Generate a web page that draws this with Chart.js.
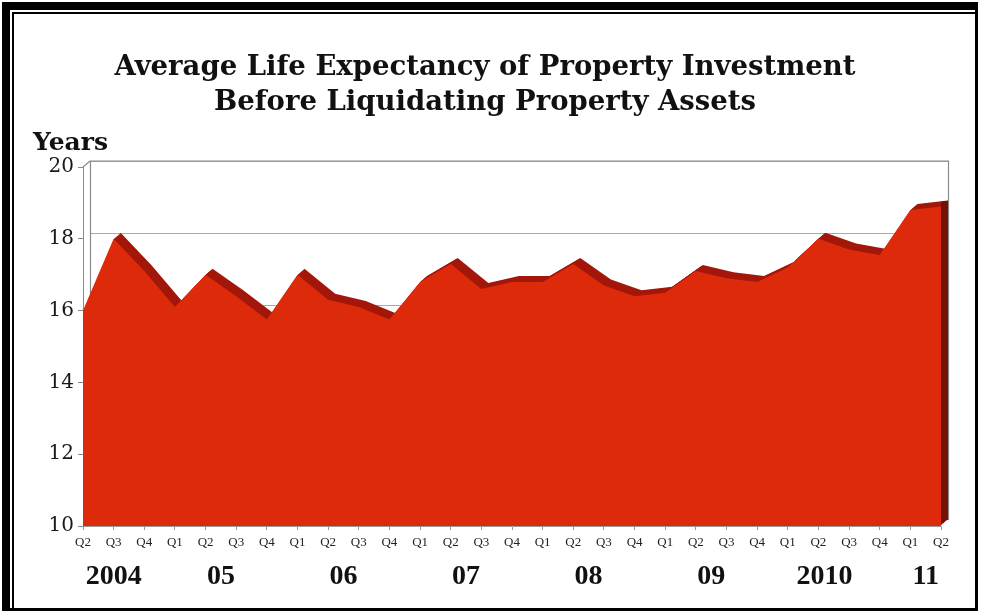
<!DOCTYPE html>
<html>
<head>
<meta charset="utf-8">
<script src="https://cdn.jsdelivr.net/npm/chart.js@4.4.1/dist/chart.umd.min.js"></script>
<style>
  html, body { margin: 0; padding: 0; background: #fff; }
  #wrap { position: relative; width: 981px; height: 614px; overflow: hidden; background: #fff; }
  #c { position: absolute; left: 0; top: 0; }
  #frameOuter { position: absolute; left: 2px; top: 2px; width: 965px; height: 598px;
    border-top: 8px solid #000; border-left: 8px solid #000; border-right: 3px solid #000; border-bottom: 3px solid #000; }
  #frameInner { position: absolute; left: 12px; top: 12px; width: 962px; height: 596px;
    border-top: 2px solid #000; border-left: 2px solid #000; }
  .title { position: absolute; left: 0; width: 970px; text-align: center;
    font-family: "DejaVu Serif", serif; font-weight: bold; font-size: 27.5px; color: #111; white-space: nowrap; }
  #yl { position: absolute; left: 33px; top: 127px; font-family: "DejaVu Serif", serif; font-weight: bold; font-size: 25px; color: #111; }
</style>
</head>
<body>
<div id="wrap">
  <canvas id="c" width="981" height="614"></canvas>
  <div id="frameOuter"></div>
  <div id="frameInner"></div>
  <div class="title" style="top:49px">Average Life Expectancy of Property Investment</div>
  <div class="title" style="top:84px">Before Liquidating Property Assets</div>
  <div id="yl">Years</div>
</div>
<script>
// ---- data ----
const quarterLabels = ['Q2','Q3','Q4',
  'Q1','Q2','Q3','Q4',
  'Q1','Q2','Q3','Q4',
  'Q1','Q2','Q3','Q4',
  'Q1','Q2','Q3','Q4',
  'Q1','Q2','Q3','Q4',
  'Q1','Q2','Q3','Q4',
  'Q1','Q2'];
const lifeExpectancyYears = [16.0, 18.0, 17.1,
  16.1, 17.0, 16.4, 15.75,
  17.0, 16.3, 16.1, 15.75,
  16.8, 17.3, 16.6, 16.8,
  16.8, 17.3, 16.7, 16.4,
  16.5, 17.1, 16.9, 16.8,
  17.2, 18.0, 17.7, 17.55,
  18.8, 18.9];
const yearLabels = ['2004','05','06','07','08','09','2010','11'];
const yearTickPos = [1, 4.5, 8.5, 12.5, 16.5, 20.5, 24.2, 27.5];
const yTicks = [10, 12, 14, 16, 18, 20];

// ---- style ----
const FRONT = '#DC2A0A';
const TOP_SHADE = '#A3170A';
const SIDE_SHADE = '#741005';
const DX = 7, DY = -6;
const STEPS = 8;

const datasets = [];
datasets.push({
  data: lifeExpectancyYears, fill: 'origin', backgroundColor: FRONT,
  borderWidth: 0, pointRadius: 0, tension: 0, order: 0, clip: false
});
for (let k = 1; k <= STEPS; k++) {
  const f = k / STEPS;
  datasets.push({
    data: lifeExpectancyYears, fill: 'origin',
    backgroundColor: (ctx) => {
      const ch = ctx.chart, ca = ch.chartArea;
      if (!ca) return TOP_SHADE;
      const shift = DX * f;
      const g = ch.ctx.createLinearGradient(ca.left, 0, ca.right, 0);
      const w = ca.right - ca.left;
      const p = Math.max(0, Math.min(1, (w - shift) / w));
      g.addColorStop(0, TOP_SHADE);
      g.addColorStop(p, TOP_SHADE);
      g.addColorStop(Math.min(1, p + 0.0001), SIDE_SHADE);
      g.addColorStop(1, SIDE_SHADE);
      return g;
    },
    borderWidth: 0, pointRadius: 0, tension: 0, order: STEPS + 1 - k, clip: false,
    shift: f
  });
}

const depthPlugin = {
  id: 'depth',
  beforeDatasetDraw(chart, args) {
    const ds = chart.data.datasets[args.index];
    if (ds && ds.shift) {
      chart.ctx.save();
      chart.ctx.translate(DX * ds.shift, DY * ds.shift);
    }
  },
  afterDatasetDraw(chart, args) {
    const ds = chart.data.datasets[args.index];
    if (ds && ds.shift) chart.ctx.restore();
  },
  beforeDatasetsDraw(chart) {
    const ctx = chart.ctx, ca = chart.chartArea, ys = chart.scales.y;
    ctx.save();
    ctx.lineWidth = 1;
    ctx.strokeStyle = '#a9a9a9';
    yTicks.forEach(v => {
      if (v === 10) return;
      const y = Math.round(ys.getPixelForValue(v) + DY) + 0.5;
      ctx.beginPath();
      ctx.moveTo(ca.left + DX, y);
      ctx.lineTo(ca.right + DX, y);
      ctx.stroke();
    });
    ctx.strokeStyle = '#8a8a8a';
    ctx.lineWidth = 1.2;
    ctx.beginPath();
    ctx.moveTo(ca.left + DX + 0.5, ca.bottom + DY);
    ctx.lineTo(ca.left + DX + 0.5, ca.top + DY);
    ctx.lineTo(ca.right + DX + 0.5, ca.top + DY);
    ctx.lineTo(ca.right + DX + 0.5, ca.bottom + DY);
    ctx.moveTo(ca.left, ca.top);
    ctx.lineTo(ca.left + DX, ca.top + DY);
    ctx.stroke();
    ctx.restore();
  }
};

// make the depth plugin run before the filler, so its translation applies to the fills
const fillerPlugin = Chart.registry.getPlugin('filler');
if (fillerPlugin) Chart.unregister(fillerPlugin);
Chart.register(depthPlugin);
if (fillerPlugin) Chart.register(fillerPlugin);

new Chart(document.getElementById('c'), {
  type: 'line',
  data: { labels: quarterLabels, datasets },
  options: {
    responsive: false,
    animation: false,
    devicePixelRatio: 1,
    layout: { padding: { top: 167, right: 40, left: 0, bottom: 0 } },
    plugins: { legend: { display: false }, title: { display: false }, tooltip: { enabled: false } },
    scales: {
      x: {
        type: 'category', offset: false, position: 'bottom',
        grid: { display: true, drawOnChartArea: false, drawTicks: true, tickLength: 4, color: '#9a9a9a' },
        border: { display: true, color: '#9a9a9a' },
        ticks: { autoSkip: false, maxRotation: 0, color: '#222', padding: 5,
          font: { family: 'Liberation Serif', size: 13 } },
        afterFit: s => { s.height = 26; }
      },
      x2: {
        type: 'linear', position: 'bottom', min: 0, max: quarterLabels.length - 1,
        grid: { display: false }, border: { display: false },
        afterBuildTicks: s => { s.ticks = yearTickPos.map(v => ({ value: v })); },
        ticks: { color: '#111', padding: 0, maxRotation: 0, autoSkip: false,
          font: { family: 'Liberation Serif', size: 28, weight: 'bold' },
          callback: (v) => { const i = yearTickPos.indexOf(v); return i >= 0 ? yearLabels[i] : ''; } },
        afterFit: s => { s.height = 62; }
      },
      y: {
        min: 10, max: 20,
        afterBuildTicks: s => { s.ticks = yTicks.map(v => ({ value: v })); },
        grid: { display: true, drawOnChartArea: false, drawTicks: true, tickLength: 5, color: '#8a8a8a' },
        border: { display: true, color: '#8a8a8a' },
        ticks: { color: '#1a1a1a', padding: 4, font: { family: 'DejaVu Serif', size: 20 } },
        afterFit: s => { s.width = 83; }
      }
    }
  }
});
</script>
</body>
</html>
